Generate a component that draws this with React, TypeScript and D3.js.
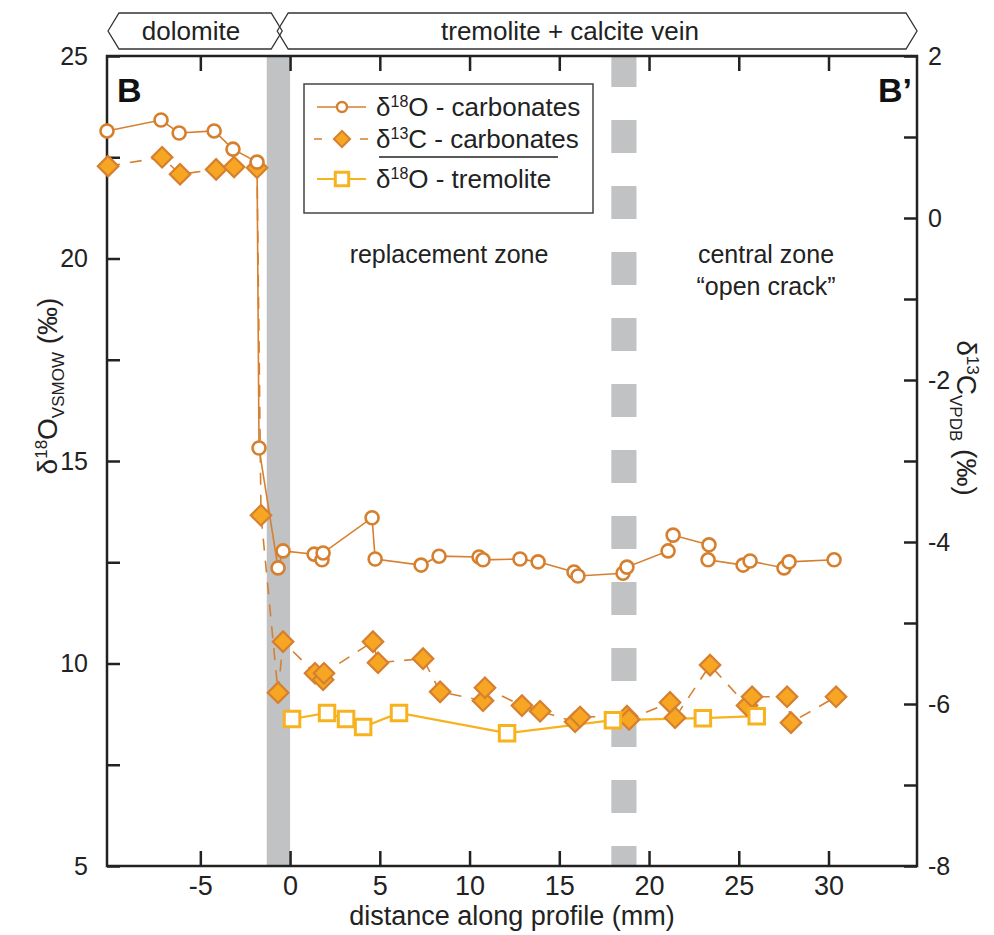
import { useEffect, useRef } from "react";
import * as d3 from "d3";

// δ18O carbonates (circles), left axis
const distCarbO = [-10.2, -7.19, -6.18, -4.23, -3.18, -1.84, -1.73, -0.67, -0.39, 1.34, 1.78, 1.84, 4.57, 4.74, 7.3, 8.3, 10.53, 10.75, 12.81, 13.82, 15.82, 16.04, 18.55, 18.77, 21.06, 21.34, 23.34, 23.29, 25.24, 25.63, 27.52, 27.8, 30.31];
const d18OCarb = [23.15, 23.42, 23.1, 23.15, 22.7, 22.38, 15.32, 12.36, 12.78, 12.7, 12.56, 12.73, 13.6, 12.58, 12.43, 12.65, 12.63, 12.56, 12.58, 12.51, 12.26, 12.16, 12.23, 12.38, 12.78, 13.17, 12.93, 12.56, 12.43, 12.53, 12.36, 12.51, 12.56];

// δ13C carbonates (diamonds), right axis
const distCarbC = [-10.14, -7.13, -6.13, -4.12, -3.12, -1.84, -1.62, -0.67, -0.39, 1.39, 1.84, 1.89, 4.62, 4.9, 7.41, 8.36, 10.75, 10.86, 12.92, 13.93, 15.88, 16.16, 18.77, 18.89, 21.17, 21.45, 23.4, 25.46, 25.74, 27.69, 27.91, 30.42];
const d13CCarb = [0.64, 0.75, 0.54, 0.6, 0.63, 0.62, -3.67, -5.86, -5.23, -5.62, -5.7, -5.62, -5.23, -5.49, -5.44, -5.85, -5.96, -5.8, -6.02, -6.09, -6.22, -6.16, -6.15, -6.19, -5.98, -6.17, -5.52, -6.02, -5.91, -5.91, -6.23, -5.91];

// δ18O tremolite (squares), left axis
const distTrem = [0.11, 2.06, 3.12, 4.07, 6.07, 12.09, 17.99, 23.0, 26.0];
const d18OTrem = [8.63, 8.78, 8.63, 8.43, 8.78, 8.28, 8.6, 8.65, 8.7];

const xTicks = [-5, 0, 5, 10, 15, 20, 25, 30];
const leftTicks = [5, 7.5, 10, 12.5, 15, 17.5, 20, 22.5, 25];
const rightTicks = [-8, -7, -6, -5, -4, -3, -2, -1, 0, 1, 2];

const contactBand = [-1.3, 0];
const crackBand = [17.9, 19.3];
const dolomiteEnd = -0.55;

const C_CARB = "#d6802f";
const C_DIAM = "#f6a623";
const C_TREM = "#f7b21e";
const GREY = "#c0c2c4";
const SANS = "'Liberation Sans', Arial, Helvetica, sans-serif";
const NARROW = "'Liberation Sans Narrow', 'Liberation Sans', Arial, sans-serif";

export default function App() {
  const svgRef = useRef<SVGSVGElement>(null);

  useEffect(() => {
    const svg = d3.select(svgRef.current);
    svg.selectAll("*").remove();

    const left = 107, right = 917, top = 56, bottom = 866;
    const x = d3.scaleLinear().domain([-10.2, 34.93]).range([left, right]);
    const yO = d3.scaleLinear().domain([5, 25]).range([bottom, top]);
    const yC = d3.scaleLinear().domain([-8, 2]).range([bottom, top]);

    svg.append("clipPath").attr("id", "plotclip").append("rect")
      .attr("x", left).attr("y", top).attr("width", right - left).attr("height", bottom - top);

    // grey bands
    svg.append("rect").attr("x", x(contactBand[0])).attr("y", top)
      .attr("width", x(contactBand[1]) - x(contactBand[0])).attr("height", bottom - top)
      .attr("fill", GREY);
    svg.append("line").attr("clip-path", "url(#plotclip)")
      .attr("x1", (x(crackBand[0]) + x(crackBand[1])) / 2).attr("x2", (x(crackBand[0]) + x(crackBand[1])) / 2)
      .attr("y1", top - 2).attr("y2", bottom)
      .attr("stroke", GREY).attr("stroke-width", x(crackBand[1]) - x(crackBand[0]))
      .attr("stroke-dasharray", "33 33");

    // banner
    const bTop = 13, bMid = 31, bBot = 49, notch = 11;
    const chevron = (a: number, b: number) =>
      `M${a},${bMid}L${a + notch},${bTop}L${b - notch},${bTop}L${b},${bMid}L${b - notch},${bBot}L${a + notch},${bBot}Z`;
    const xd = x(dolomiteEnd);
    svg.append("path").attr("d", chevron(left + 1, xd + 2)).attr("fill", "none").attr("stroke", "#333").attr("stroke-width", 1.3);
    svg.append("path").attr("d", chevron(xd - 3, right)).attr("fill", "none").attr("stroke", "#333").attr("stroke-width", 1.3);
    svg.append("text").attr("x", 191).attr("y", bMid + 9).attr("text-anchor", "middle")
      .style("font-family", NARROW).style("font-size", "26px").attr("fill", "#222").text("dolomite");
    svg.append("text").attr("x", 570).attr("y", bMid + 9).attr("text-anchor", "middle")
      .style("font-family", NARROW).style("font-size", "26px").attr("fill", "#222").text("tremolite + calcite vein");

    // axes
    const axisStyle = (g: any) => {
      g.select(".domain").remove();
      g.selectAll(".tick line").attr("stroke", "#222").attr("stroke-width", 2.5);
    };
    svg.append("g").attr("transform", `translate(0,${bottom})`)
      .call(d3.axisBottom(x).tickValues(xTicks).tickSize(-15).tickPadding(10).tickFormat(d => String(d)))
      .call(axisStyle)
      .call(g => g.selectAll("text").style("font-family", NARROW).style("font-size", "27px").attr("fill", "#222"));
    svg.append("g").attr("transform", `translate(0,${top})`)
      .call(d3.axisTop(x).tickValues(xTicks).tickSize(-15).tickFormat(() => ""))
      .call(axisStyle);
    svg.append("g").attr("transform", `translate(${left},0)`)
      .call(d3.axisLeft(yO).tickValues(leftTicks).tickSize(-13).tickPadding(19)
        .tickFormat(d => (+d % 5 === 0 ? String(d) : "")))
      .call(axisStyle)
      .call(g => g.selectAll("text").style("font-family", SANS).style("font-size", "25px").attr("fill", "#222"));
    svg.append("g").attr("transform", `translate(${right},0)`)
      .call(d3.axisRight(yC).tickValues(rightTicks).tickSize(-13).tickPadding(11)
        .tickFormat(d => (+d % 2 === 0 ? String(d) : "")))
      .call(axisStyle)
      .call(g => g.selectAll("text").style("font-family", SANS).style("font-size", "25px").attr("fill", "#222"));
    svg.append("rect").attr("x", left).attr("y", top).attr("width", right - left).attr("height", bottom - top)
      .attr("fill", "none").attr("stroke", "#222").attr("stroke-width", 2.5);

    // series lines
    const lineO = d3.line<number>().x((_, i) => x(distCarbO[i])).y(d => yO(d));
    const lineC = d3.line<number>().x((_, i) => x(distCarbC[i])).y(d => yC(d));
    const lineT = d3.line<number>().x((_, i) => x(distTrem[i])).y(d => yO(d));
    svg.append("path").attr("d", lineC(d13CCarb)).attr("fill", "none").attr("stroke", C_CARB)
      .attr("stroke-width", 1.6).attr("stroke-dasharray", "12 10");
    svg.append("path").attr("d", lineO(d18OCarb)).attr("fill", "none").attr("stroke", C_CARB).attr("stroke-width", 1.6);
    svg.append("path").attr("d", lineT(d18OTrem)).attr("fill", "none").attr("stroke", C_TREM).attr("stroke-width", 2.2);

    const diamond = d3.symbol().type(d3.symbolSquare).size(210);
    const square = d3.symbol().type(d3.symbolSquare).size(240);

    svg.append("g").selectAll("path").data(d13CCarb).enter().append("path")
      .attr("d", diamond()).attr("transform", (d, i) => `translate(${x(distCarbC[i])},${yC(d)}) rotate(45)`)
      .attr("fill", C_DIAM).attr("stroke", C_CARB).attr("stroke-width", 2.2);
    svg.append("g").selectAll("circle").data(d18OCarb).enter().append("circle")
      .attr("cx", (_, i) => x(distCarbO[i])).attr("cy", d => yO(d)).attr("r", 6.5)
      .attr("fill", "#fff").attr("stroke", C_CARB).attr("stroke-width", 2.6);
    svg.append("g").selectAll("path").data(d18OTrem).enter().append("path")
      .attr("d", square()).attr("transform", (d, i) => `translate(${x(distTrem[i])},${yO(d)})`)
      .attr("fill", "#fff").attr("stroke", C_TREM).attr("stroke-width", 3);

    // section letters
    svg.append("text").attr("x", 117).attr("y", 102).style("font-family", SANS).style("font-size", "34px")
      .style("font-weight", "bold").attr("fill", "#111").text("B");
    svg.append("text").attr("x", 912).attr("y", 102).attr("text-anchor", "end").style("font-family", SANS)
      .style("font-size", "34px").style("font-weight", "bold").attr("fill", "#111").text("B’");

    // zone labels
    const zone = (tx: number, ty: number, s: string) =>
      svg.append("text").attr("x", tx).attr("y", ty).attr("text-anchor", "middle").style("font-family", SANS)
        .style("font-size", "25px").attr("fill", "#222").text(s);
    zone(449, 263, "replacement zone");
    zone(766, 263, "central zone");
    zone(766, 295, "“open crack”");

    // legend
    const lg = svg.append("g");
    lg.append("rect").attr("x", 304).attr("y", 84).attr("width", 289).attr("height", 129)
      .attr("fill", "#fff").attr("stroke", "#444").attr("stroke-width", 1.5);
    const rows = [107, 139, 179];
    lg.append("line").attr("x1", 317).attr("x2", 366).attr("y1", rows[0]).attr("y2", rows[0]).attr("stroke", C_CARB).attr("stroke-width", 1.6);
    lg.append("circle").attr("cx", 342).attr("cy", rows[0]).attr("r", 5).attr("fill", "#fff").attr("stroke", C_CARB).attr("stroke-width", 2.4);
    lg.append("line").attr("x1", 314).attr("x2", 372).attr("y1", rows[1]).attr("y2", rows[1]).attr("stroke", C_CARB)
      .attr("stroke-width", 1.6).attr("stroke-dasharray", "8 38");
    lg.append("path").attr("d", d3.symbol().type(d3.symbolSquare).size(130)()).attr("transform", `translate(342,${rows[1]}) rotate(45)`)
      .attr("fill", C_DIAM).attr("stroke", C_CARB).attr("stroke-width", 2);
    lg.append("line").attr("x1", 317).attr("x2", 366).attr("y1", rows[2]).attr("y2", rows[2]).attr("stroke", C_TREM).attr("stroke-width", 2.2);
    lg.append("path").attr("d", d3.symbol().type(d3.symbolSquare).size(180)()).attr("transform", `translate(342,${rows[2]})`)
      .attr("fill", "#fff").attr("stroke", C_TREM).attr("stroke-width", 3);
    lg.append("line").attr("x1", 379).attr("x2", 558).attr("y1", 157).attr("y2", 157).attr("stroke", "#222").attr("stroke-width", 1.3);
    const labels = [["18", "O - carbonates"], ["13", "C - carbonates"], ["18", "O - tremolite"]];
    labels.forEach(([sup, rest], i) => {
      const t = lg.append("text").attr("x", 376).attr("y", rows[i] + 9).style("font-family", SANS)
        .style("font-size", "26px").attr("fill", "#222");
      t.append("tspan").text("δ");
      t.append("tspan").attr("dy", -9).style("font-size", "16px").text(sup);
      t.append("tspan").attr("dy", 9).text(rest);
    });

    // axis titles
    svg.append("text").attr("x", 512).attr("y", 925).attr("text-anchor", "middle").style("font-family", NARROW)
      .style("font-size", "27px").attr("fill", "#222").text("distance along profile (mm)");

    const lt = svg.append("text").attr("transform", "translate(57,386) rotate(-90)").attr("text-anchor", "middle")
      .style("font-family", SANS).style("font-size", "28px").attr("fill", "#222");
    lt.append("tspan").text("δ");
    lt.append("tspan").attr("dy", -10).style("font-size", "17px").text("18");
    lt.append("tspan").attr("dy", 10).text("O");
    lt.append("tspan").attr("dy", 7).style("font-family", NARROW).style("font-size", "17px").text("VSMOW");
    lt.append("tspan").attr("dy", -7).text(" (‰)");

    const rt = svg.append("text").attr("transform", "translate(957,418) rotate(90)").attr("text-anchor", "middle")
      .style("font-family", SANS).style("font-size", "28px").attr("fill", "#222");
    rt.append("tspan").text("δ");
    rt.append("tspan").attr("dy", -10).style("font-size", "17px").text("13");
    rt.append("tspan").attr("dy", 10).text("C");
    rt.append("tspan").attr("dy", 7).style("font-family", NARROW).style("font-size", "17px").text("VPDB");
    rt.append("tspan").attr("dy", -7).text(" (‰)");
  }, []);

  return (
    <svg ref={svgRef} width={994} height={935}
      style={{ position: "absolute", left: 0, top: 0, background: "#fff" }} />
  );
}
